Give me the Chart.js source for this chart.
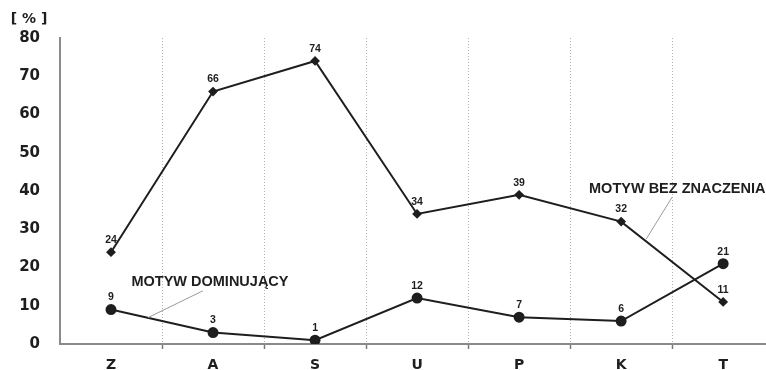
<!DOCTYPE html>
<html><head><meta charset="utf-8">
<script src="https://cdn.jsdelivr.net/npm/chart.js@4"></script>
<style>html,body{margin:0;padding:0;background:#fff}</style>
</head><body>
<canvas id="c" width="766" height="370"></canvas>
<script>
const categories = ['Z','A','S','U','P','K','T'];
const motywBezZnaczenia = [24,66,74,34,39,32,11];
const motywDominujacy = [9,3,1,12,7,6,21];
const yTicks = [0,10,20,30,40,50,60,70,80];
const yAxisLabel = '[ % ]';
const seriesNames = ['MOTYW BEZ ZNACZENIA','MOTYW DOMINUJĄCY'];

// callout annotations in data units: text centre, leader from -> to
const callouts = [
  {text: seriesNames[1], tx: 0.97, ty: 16.2, x1: 0.90, y1: 13.9, x2: 0.363, y2: 6.9},
  {text: seriesNames[0], tx: 5.55, ty: 40.5, x1: 5.50, y1: 38.4, x2: 5.245, y2: 27.4}
];

const toPoints = arr => arr.map((v,i)=>({x:i,y:v}));
const INK = '#1e1e1e';

const labelsPlugin = {
  id: 'valueLabels',
  afterDatasetsDraw(chart) {
    const ctx = chart.ctx;
    ctx.save();
    ctx.font = 'bold 10.5px "Liberation Sans", Arial, sans-serif';
    ctx.fillStyle = INK;
    ctx.textAlign = 'center';
    ctx.textBaseline = 'middle';
    chart.data.datasets.forEach((ds, di) => {
      const meta = chart.getDatasetMeta(di);
      meta.data.forEach((el, i) => {
        ctx.fillText(String(ds.data[i].y), el.x, el.y - 12);
      });
    });
    const xs = chart.scales.x, ys = chart.scales.y;
    callouts.forEach(c => {
      ctx.strokeStyle = '#9a9a9a';
      ctx.lineWidth = 1;
      ctx.beginPath();
      ctx.moveTo(xs.getPixelForValue(c.x1), ys.getPixelForValue(c.y1));
      ctx.lineTo(xs.getPixelForValue(c.x2), ys.getPixelForValue(c.y2));
      ctx.stroke();
      ctx.font = 'bold 14.5px "Liberation Sans", Arial, sans-serif';
      ctx.fillStyle = INK;
      ctx.fillText(c.text, xs.getPixelForValue(c.tx), ys.getPixelForValue(c.ty));
    });
    ctx.font = 'bold 14px "DejaVu Sans", sans-serif';
    ctx.fillText(yAxisLabel, chart.chartArea.left - 31, chart.chartArea.top - 19);
    ctx.restore();
  }
};

new Chart(document.getElementById('c'), {
  type: 'line',
  data: {
    datasets: [
      {
        label: seriesNames[0],
        data: toPoints(motywBezZnaczenia),
        borderColor: INK, backgroundColor: INK, borderWidth: 2,
        pointStyle: 'rectRot', pointRadius: 3.5, tension: 0
      },
      {
        label: seriesNames[1],
        data: toPoints(motywDominujacy),
        borderColor: INK, backgroundColor: INK, borderWidth: 2,
        pointStyle: 'circle', pointRadius: 4.5, tension: 0
      }
    ]
  },
  options: {
    responsive: false,
    animation: false,
    devicePixelRatio: 1,
    layout: {autoPadding: false, padding: {top: 38, left: 0, right: 0, bottom: 0}},
    plugins: {legend: {display: false}, tooltip: {enabled: false}},
    scales: {
      x: {
        type: 'linear',
        min: -0.5, max: 6.42,
        afterBuildTicks: s => {
          const t = [];
          for (let i = 0; i < categories.length; i++) {
            t.push({value: i});
            if (i < categories.length - 1) t.push({value: i + 0.5});
          }
          s.ticks = t;
        },
        afterFit: s => { s.height = 26; },
        ticks: {
          autoSkip: false, maxRotation: 0, padding: 8,
          color: INK,
          font: {family: '"DejaVu Sans", sans-serif', size: 14, weight: 'bold'},
          callback: v => Number.isInteger(v) ? categories[v] : ''
        },
        grid: {
          color: c => (c.tick && !Number.isInteger(c.tick.value)) ? '#b4b4b4' : 'rgba(0,0,0,0)',
          tickColor: c => (c.tick && !Number.isInteger(c.tick.value)) ? '#7a7a7a' : 'rgba(0,0,0,0)',
          lineWidth: 1, tickLength: 5, tickWidth: 1.5
        },
        border: {display: true, color: '#8a8a8a', width: 2, dash: [1, 2]}
      },
      y: {
        type: 'linear',
        min: 0, max: 80,
        afterBuildTicks: s => { s.ticks = yTicks.map(v => ({value: v})); },
        afterFit: s => { s.width = 60; },
        ticks: {
          padding: 3, color: INK,
          font: {family: '"DejaVu Sans", sans-serif', size: 15, weight: 'bold'}
        },
        grid: {display: true, color: 'rgba(0,0,0,0)', drawTicks: true, tickLength: 17, tickColor: 'rgba(0,0,0,0)'},
        border: {display: true, color: '#8a8a8a', width: 2}
      }
    }
  },
  plugins: [labelsPlugin]
});
</script>
</body></html>
